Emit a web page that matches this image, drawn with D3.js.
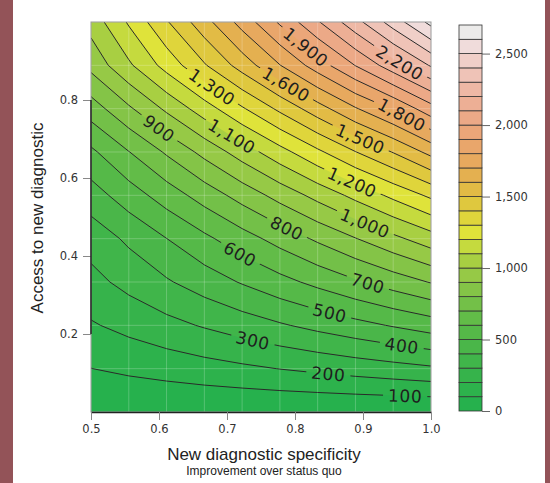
<!DOCTYPE html>
<html>
<head>
<meta charset="utf-8">
<script src="https://cdn.jsdelivr.net/npm/d3@7"></script>
<style>
body { margin: 0; background: #fff; }
svg { display: block; }
</style>
</head>
<body>
<svg id="chart" width="550" height="483"></svg>
<script>
// sample grid: columns = new diagnostic specificity, rows = access
var specificity = [0.5, 0.5556, 0.6111, 0.6667, 0.7222, 0.7778, 0.8333, 0.8889, 0.9444, 1.0];
var access = [0, 0.1111, 0.2222, 0.3333, 0.4444, 0.5556, 0.6667, 0.7778, 0.8889, 1.0];

// one row per access value
var benefit = [
    [0, 0, 0, 0, 0, 0, 0, 0, 0, 0],
    [99, 120, 140, 161, 181, 202, 222, 243, 263, 284],
    [190, 230, 270, 309, 349, 389, 429, 468, 508, 548],
    [270, 330, 389, 449, 508, 568, 627, 687, 747, 806],
    [340, 419, 499, 578, 658, 737, 817, 896, 975, 1055],
    [455, 551, 647, 743, 839, 936, 1032, 1128, 1224, 1320],
    [580, 697, 813, 930, 1047, 1163, 1280, 1397, 1505, 1630],
    [750, 884, 1019, 1153, 1288, 1422, 1557, 1691, 1810, 1960],
    [930, 1083, 1237, 1390, 1543, 1697, 1850, 2003, 2157, 2310],
    [1040, 1212, 1390, 1562, 1738, 1915, 2090, 2265, 2445, 2630]
];

var levels = [100, 200, 300, 400, 500, 600, 700, 800, 900, 1000, 1100, 1200, 1300,
              1400, 1500, 1600, 1700, 1800, 1900, 2000, 2100, 2200, 2300, 2400, 2500, 2600];

// colour of each 100-wide band, from 0-100 up to 2600-2700
var bandColors = ["#26b14d", "#2db24c", "#36b34b", "#40b54a", "#4ab649", "#55b948",
                  "#62bc48", "#73c048", "#84c447", "#96c946", "#a8cf42", "#c5da3e",
                  "#dfe33a", "#dfd53b", "#dfc83e", "#e2bb45", "#e4b050", "#e7a95e",
                  "#e9a66b", "#eba679", "#eca987", "#edaf95", "#eeb8a5", "#efc3b7",
                  "#f0cfc8", "#f0dcdb", "#ecebea"];

var xTicks = [0.5, 0.6, 0.7, 0.8, 0.9, 1.0];
var yTicks = [0.2, 0.4, 0.6, 0.8];
var barTicks = [0, 500, 1000, 1500, 2000, 2500];

// where the inline contour labels sit (level, specificity)
var contourLabels = [
    [100, 0.962], [200, 0.849], [300, 0.738], [400, 0.957], [500, 0.851],
    [600, 0.719], [700, 0.907], [800, 0.788], [900, 0.600], [1000, 0.903],
    [1100, 0.707], [1200, 0.884], [1300, 0.678], [1500, 0.896], [1600, 0.787],
    [1800, 0.957], [1900, 0.816], [2200, 0.954]
];

var svg = d3.select("#chart");
var W = 550, H = 483;
var plot = {left: 91, right: 431, top: 22, bottom: 412};

// maroon page border
svg.append("rect").attr("x", 0).attr("y", 0).attr("width", 13).attr("height", H).attr("fill", "#935358");
svg.append("rect").attr("x", 545).attr("y", 0).attr("width", 5).attr("height", H).attr("fill", "#935358");

var xScale = d3.scaleLinear().domain([0.5, 1.0]).range([plot.left, plot.right]);
var yScale = d3.scaleLinear().domain([0, 1.0]).range([plot.bottom, plot.top]);

// grid coords (sample i sits at i + 0.5) -> pixels
var nx = specificity.length, ny = access.length;
var gx = d3.scaleLinear().domain([0.5, nx - 0.5]).range([xScale(specificity[0]), xScale(specificity[nx - 1])]);
var gy = d3.scaleLinear().domain([0.5, ny - 0.5]).range([yScale(access[0]), yScale(access[ny - 1])]);

var proj = d3.geoTransform({
    point: function (x, y) { this.stream.point(gx(x), gy(y)); }
});
var path = d3.geoPath(proj);

var contours = d3.contours()
    .size([nx, ny])
    .thresholds(levels)(benefit.flat());

var defs = svg.append("defs");
defs.append("clipPath").attr("id", "plot-clip")
    .append("rect")
    .attr("x", plot.left).attr("y", plot.top)
    .attr("width", plot.right - plot.left).attr("height", plot.bottom - plot.top);

var field = svg.append("g").attr("clip-path", "url(#plot-clip)");

field.append("rect")
    .attr("x", plot.left).attr("y", plot.top)
    .attr("width", plot.right - plot.left).attr("height", plot.bottom - plot.top)
    .attr("fill", bandColors[0]);

field.selectAll("path.band")
    .data(contours)
    .join("path")
    .attr("class", "band")
    .attr("d", path)
    .attr("fill", (d, i) => bandColors[i + 1]);

// faint sample grid
field.selectAll("line.gv")
    .data(specificity)
    .join("line")
    .attr("class", "gv")
    .attr("x1", d => xScale(d)).attr("x2", d => xScale(d))
    .attr("y1", plot.top).attr("y2", plot.bottom)
    .attr("stroke", "#fff").attr("stroke-opacity", 0.22).attr("stroke-width", 1);
field.selectAll("line.gh")
    .data(access)
    .join("line")
    .attr("class", "gh")
    .attr("x1", plot.left).attr("x2", plot.right)
    .attr("y1", d => yScale(d)).attr("y2", d => yScale(d))
    .attr("stroke", "#fff").attr("stroke-opacity", 0.22).attr("stroke-width", 1);

// bilinear lookup for placing labels on the lines
function valueAt(x, y) {
    let fi = (x - specificity[0]) / (specificity[nx - 1] - specificity[0]) * (nx - 1);
    let fj = (y - access[0]) / (access[ny - 1] - access[0]) * (ny - 1);
    let i0 = Math.max(0, Math.min(nx - 2, Math.floor(fi)));
    let j0 = Math.max(0, Math.min(ny - 2, Math.floor(fj)));
    let u = fi - i0, v = fj - j0;
    let a = benefit[j0][i0], b = benefit[j0][i0 + 1];
    let c = benefit[j0 + 1][i0], d = benefit[j0 + 1][i0 + 1];
    return (a * (1 - u) + b * u) * (1 - v) + (c * (1 - u) + d * u) * v;
}

function findY(level, x) {
    let lo = 0, hi = 1;
    for (let k = 0; k < 40; k++) {
        let mid = (lo + hi) / 2;
        if (valueAt(x, mid) < level) lo = mid; else hi = mid;
    }
    return (lo + hi) / 2;
}

var fmt = d3.format(",");
var labelData = contourLabels.map(function (d) {
    let px = xScale(d[1]);
    let py = yScale(findY(d[0], d[1]));
    let f = (X, Y) => valueAt(xScale.invert(X), yScale.invert(Y));
    let ddx = f(px + 1, py) - f(px - 1, py);
    let ddy = f(px, py + 1) - f(px, py - 1);
    let angle = Math.atan2(ddx, -ddy) * 180 / Math.PI;
    return {level: d[0], px: px, py: py, angle: angle, text: fmt(d[0])};
});

var labelG = svg.append("g").attr("clip-path", "url(#plot-clip)");
var labels = labelG.selectAll("text")
    .data(labelData)
    .join("text")
    .attr("transform", d => `translate(${d.px},${d.py}) rotate(${d.angle})`)
    .attr("text-anchor", "middle")
    .attr("dy", "0.36em")
    .style("font-family", "DejaVu Sans, sans-serif")
    .style("font-size", "17px")
    .style("letter-spacing", "0.6px")
    .attr("fill", "#1e1e1e")
    .text(d => d.text);

// cut the lines where labels sit
var mask = defs.append("mask").attr("id", "label-gaps")
    .attr("maskUnits", "userSpaceOnUse")
    .attr("x", 0).attr("y", 0).attr("width", W).attr("height", H);
mask.append("rect").attr("x", 0).attr("y", 0).attr("width", W).attr("height", H).attr("fill", "#fff");
labels.each(function (d) {
    let w = this.getComputedTextLength() + 10;
    mask.append("rect")
        .attr("x", -w / 2).attr("y", -8)
        .attr("width", w).attr("height", 16)
        .attr("transform", `translate(${d.px},${d.py}) rotate(${d.angle})`)
        .attr("fill", "#000");
});

var lines = svg.insert("g", () => labelG.node())
    .attr("clip-path", "url(#plot-clip)")
    .append("g")
    .attr("mask", "url(#label-gaps)");
lines.selectAll("path")
    .data(contours)
    .join("path")
    .attr("d", path)
    .attr("fill", "none")
    .attr("stroke", "#2a2a2a")
    .attr("stroke-width", 1);

// frame
svg.append("rect")
    .attr("x", plot.left).attr("y", plot.top)
    .attr("width", plot.right - plot.left).attr("height", plot.bottom - plot.top)
    .attr("fill", "none").attr("stroke", "#999").attr("stroke-width", 1);

// x axis
var xAxis = svg.append("g")
    .attr("transform", `translate(0,${plot.bottom})`)
    .call(d3.axisBottom(xScale).tickValues(xTicks).tickSize(8).tickSizeOuter(0).tickPadding(5)
        .tickFormat(d3.format(".1f")));
xAxis.select(".domain").attr("stroke", "#222").attr("stroke-width", 1.5);
xAxis.selectAll(".tick line").attr("stroke", "#888");
xAxis.selectAll(".tick text")
    .style("font-family", "DejaVu Sans, sans-serif").style("font-size", "11.5px").attr("fill", "#333");

// y axis (line only spans the ticks)
var yAxis = svg.append("g")
    .attr("transform", `translate(${plot.left},0)`)
    .call(d3.axisLeft(yScale).tickValues(yTicks).tickSize(8).tickSizeOuter(0).tickPadding(5)
        .tickFormat(d3.format(".1f")));
yAxis.select(".domain").remove();
yAxis.append("line")
    .attr("x1", 0).attr("x2", 0)
    .attr("y1", yScale(yTicks[0])).attr("y2", yScale(yTicks[yTicks.length - 1]))
    .attr("stroke", "#222").attr("stroke-width", 1.5);
yAxis.selectAll(".tick line").attr("stroke", "#888");
yAxis.selectAll(".tick text")
    .style("font-family", "DejaVu Sans, sans-serif").style("font-size", "11.5px").attr("fill", "#333");

// axis titles
svg.append("text")
    .attr("x", (plot.left + plot.right) / 2 + 3).attr("y", 460)
    .attr("text-anchor", "middle")
    .style("font-family", "Liberation Sans, Arial, sans-serif").style("font-size", "17px")
    .attr("fill", "#222")
    .text("New diagnostic specificity");
svg.append("text")
    .attr("x", (plot.left + plot.right) / 2 + 3).attr("y", 475)
    .attr("text-anchor", "middle")
    .style("font-family", "Liberation Sans, Arial, sans-serif").style("font-size", "12px")
    .attr("fill", "#222")
    .text("Improvement over status quo");
svg.append("text")
    .attr("transform", "translate(43,218) rotate(-90)")
    .attr("text-anchor", "middle")
    .style("font-family", "Liberation Sans, Arial, sans-serif").style("font-size", "17px")
    .attr("fill", "#222")
    .text("Access to new diagnostic");

// colour bar
var bar = {left: 459, right: 482, top: 25, bottom: 411};
var barScale = d3.scaleLinear().domain([0, 2700]).range([bar.bottom, bar.top]);
var barBands = [0].concat(levels);
svg.append("g").selectAll("rect")
    .data(barBands)
    .join("rect")
    .attr("x", bar.left)
    .attr("y", d => barScale(d + 100))
    .attr("width", bar.right - bar.left)
    .attr("height", d => barScale(d) - barScale(d + 100))
    .attr("fill", (d, i) => bandColors[i])
    .attr("stroke", "#333").attr("stroke-width", 0.8);

var barAxis = svg.append("g")
    .attr("transform", `translate(${bar.right},0)`)
    .call(d3.axisRight(barScale).tickValues(barTicks).tickSize(8).tickSizeOuter(0).tickPadding(5)
        .tickFormat(fmt));
barAxis.select(".domain").remove();
barAxis.selectAll(".tick line").attr("stroke", "#666");
barAxis.selectAll(".tick text")
    .style("font-family", "DejaVu Sans, sans-serif").style("font-size", "11.5px").attr("fill", "#333");
</script>
</body>
</html>
